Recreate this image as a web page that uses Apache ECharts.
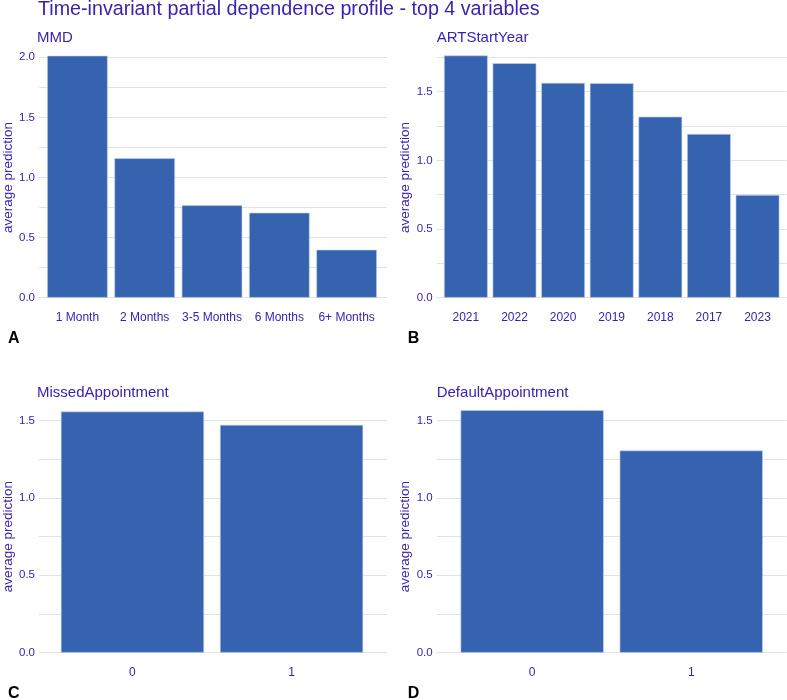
<!DOCTYPE html>
<html>
<head>
<meta charset="utf-8">
<script src="https://cdn.jsdelivr.net/npm/echarts@6/dist/echarts.min.js"></script>
<style>
    html, body {margin: 0; padding: 0; background: #ffffff;}
    #chartDiv {width: 787px; height: 700px;}
</style>
</head>
<body>
<div id="chartDiv"></div>
<script>
/*
* data
* */
var mmdCategories = ['1 Month', '2 Months', '3-5 Months', '6 Months', '6+ Months'];
var mmdValues = [2.013, 1.160, 0.769, 0.707, 0.399];

var artYearCategories = ['2021', '2022', '2020', '2019', '2018', '2017', '2023'];
var artYearValues = [1.763, 1.707, 1.564, 1.561, 1.318, 1.192, 0.748];

var missedCategories = ['0', '1'];
var missedValues = [1.558, 1.472];

var defaultCategories = ['0', '1'];
var defaultValues = [1.567, 1.306];

var panelTitles = ['MMD', 'ARTStartYear', 'MissedAppointment', 'DefaultAppointment'];
var panelLetters = ['A', 'B', 'C', 'D'];
var yMaxList = [2.0, 1.75, 1.5, 1.5];

var textColor = '#3A22B0';
var barColor = '#3563AF';
var gridColor = '#E2E2E2';
var fontName = 'Liberation Sans, Arial, sans-serif';

var chartDiv = document.getElementById('chartDiv');
var chart = echarts.init(chartDiv);

//panel frames: left, top of grid lines, zero line, title top
var panels = [
    {left: 37, top: 57.3, base: 297.7, titleTop: 30},
    {left: 436.7, top: 57.3, base: 297.7, titleTop: 30},
    {left: 37, top: 420.5, base: 652.7, titleTop: 385},
    {left: 436.7, top: 420.5, base: 652.7, titleTop: 385}
];
var panelWidth = 350;
var categoryList = [mmdCategories, artYearCategories, missedCategories, defaultCategories];
var valueList = [mmdValues, artYearValues, missedValues, defaultValues];

var grids = [];
var xAxes = [];
var yAxes = [];
var series = [];
var titles = [];

titles.push({
    text: 'Time-invariant partial dependence profile - top 4 variables',
    left: 38,
    top: 0,
    padding: 0,
    textStyle: {color: textColor, fontSize: 19.7, fontWeight: 'normal', fontFamily: fontName}
});

for (var i = 0; i < panels.length; i++) {
    var p = panels[i];
    var n = categoryList[i].length;
    var unit = panelWidth / (n + 0.2);

    //frame grid, carries the y axis and grid lines
    grids.push({left: p.left, top: p.top, width: panelWidth, height: p.base - p.top});
    //bar grid, ggplot style padding on both sides
    grids.push({left: p.left + 0.1 * unit, top: p.top, width: n * unit, height: p.base - p.top});

    xAxes.push({type: 'value', gridIndex: 2 * i, show: false, min: 0, max: 1});
    xAxes.push({
        type: 'category',
        gridIndex: 2 * i + 1,
        data: categoryList[i],
        axisLine: {show: false},
        axisTick: {show: false},
        axisLabel: {color: textColor, fontSize: 12, margin: 14, interval: 0, fontFamily: fontName}
    });

    yAxes.push({
        type: 'value',
        gridIndex: 2 * i,
        min: 0,
        max: yMaxList[i],
        interval: 0.25,
        name: 'average prediction',
        nameLocation: 'middle',
        nameGap: 24,
        nameTextStyle: {color: textColor, fontSize: 13.5, fontFamily: fontName},
        axisLine: {show: false},
        axisTick: {show: false},
        splitLine: {lineStyle: {color: gridColor, width: 1}},
        axisLabel: {
            color: textColor,
            fontSize: 11.5,
            margin: 4,
            fontFamily: fontName,
            formatter: function (v) {
                if (Math.abs(v * 2 - Math.round(v * 2)) > 1e-6) return '';
                return v.toFixed(1);
            }
        }
    });
    yAxes.push({type: 'value', gridIndex: 2 * i + 1, min: 0, max: yMaxList[i], show: false});

    series.push({
        type: 'bar',
        xAxisIndex: 2 * i + 1,
        yAxisIndex: 2 * i + 1,
        data: valueList[i],
        barWidth: '90%',
        clip: false,
        silent: true,
        itemStyle: {color: barColor, borderColor: '#C6D4EC', borderWidth: 0.6}
    });

    titles.push({
        text: panelTitles[i],
        left: p.left,
        top: p.titleTop,
        padding: 0,
        textStyle: {color: textColor, fontSize: 15, fontWeight: 'normal', fontFamily: fontName}
    });
    titles.push({
        text: panelLetters[i],
        left: p.left - 29,
        top: p.base + 33,
        padding: 0,
        textStyle: {color: '#000000', fontSize: 16, fontWeight: 'bold', fontFamily: fontName}
    });
}

var option = {
    animation: false,
    title: titles,
    grid: grids,
    xAxis: xAxes,
    yAxis: yAxes,
    series: series
};
chart.setOption(option);
</script>
</body>
</html>
